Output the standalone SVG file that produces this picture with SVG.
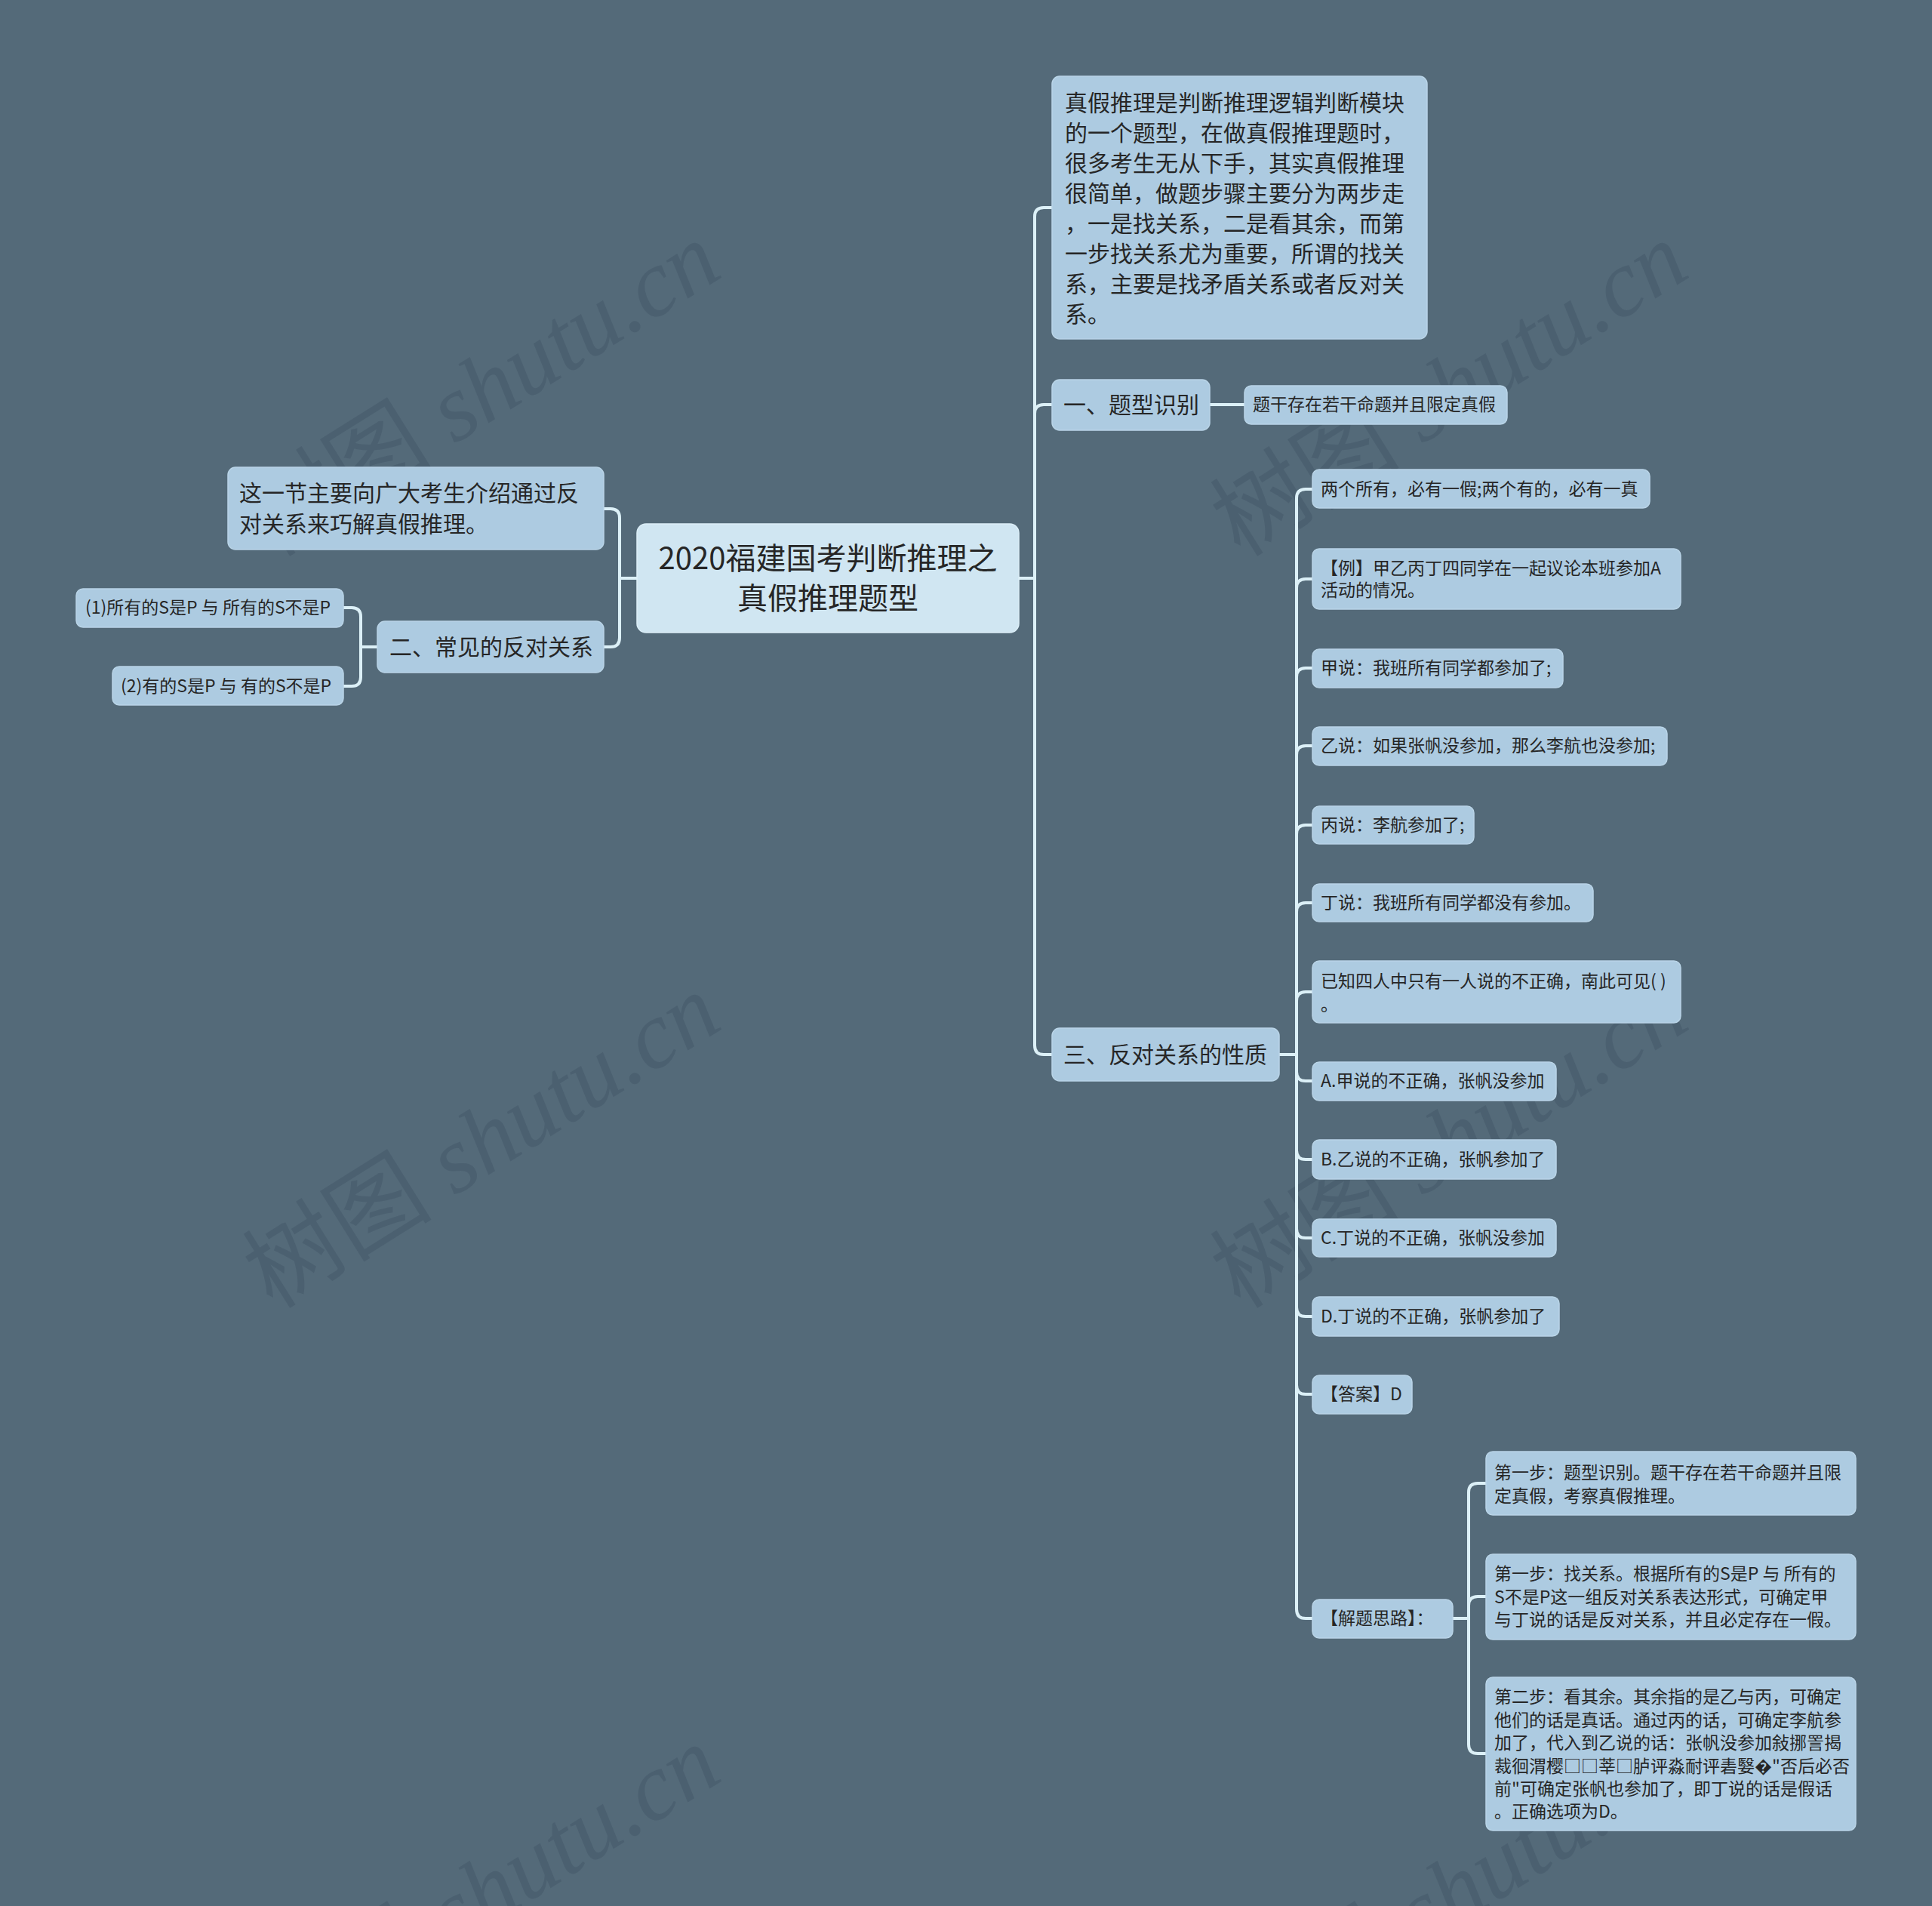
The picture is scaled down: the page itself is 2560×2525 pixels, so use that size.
<svg xmlns="http://www.w3.org/2000/svg" width="2560" height="2525" viewBox="0 0 2560 2525">
<style>
.bg{fill:#546a79}
.n{fill:#adcbe1;stroke:#b9d4e7;stroke-width:1.5}
.root{fill:#d0e6f2;stroke:#dbeef7;stroke-width:1.5}
.t{font-family:"Noto Sans CJK SC","Noto Sans",sans-serif;fill:#262626}
.t40{font-size:40px}
.t30{font-size:30px}
.t23{font-size:23px}
.c{fill:none;stroke:#dcf0f7;stroke-width:4;stroke-linecap:round}
.wm{font-family:"Liberation Serif","Noto Sans CJK SC",serif;font-size:126px;fill:#45596a;opacity:0.55}
.wm tspan.l{font-style:italic}
</style>
<rect class="bg" x="0" y="0" width="2560" height="2525"/>

<g id="watermarks">
<text class="wm" text-anchor="middle" transform="translate(640,518) rotate(-32)" dy="40">树图 <tspan class="l">shutu.cn</tspan></text>
<text class="wm" text-anchor="middle" transform="translate(1922,518) rotate(-32)" dy="40">树图 <tspan class="l">shutu.cn</tspan></text>
<text class="wm" text-anchor="middle" transform="translate(640,1514) rotate(-32)" dy="40">树图 <tspan class="l">shutu.cn</tspan></text>
<text class="wm" text-anchor="middle" transform="translate(1922,1514) rotate(-32)" dy="40">树图 <tspan class="l">shutu.cn</tspan></text>
<text class="wm" text-anchor="middle" transform="translate(640,2510) rotate(-32)" dy="40">树图 <tspan class="l">shutu.cn</tspan></text>
<text class="wm" text-anchor="middle" transform="translate(1922,2510) rotate(-32)" dy="40">树图 <tspan class="l">shutu.cn</tspan></text>
</g>

<g id="connectors">
<!-- left -->
<path class="c" d="M844 766 H821"/>
<path class="c" d="M800 674 H809 Q821 674 821 686 V845 Q821 857 809 857 H800"/>
<path class="c" d="M500 857 H478"/>
<path class="c" d="M455 805 H466 Q478 805 478 817 V897 Q478 909 466 909 H455"/>
<!-- right main -->
<path class="c" d="M1350 766 H1371"/>
<path class="c" d="M1394 275 H1383 Q1371 275 1371 287 V1385 Q1371 1397 1383 1397 H1394"/>
<path class="c" d="M1371 548 Q1371 536 1383 536 H1394"/>
<path class="c" d="M1603 536 H1649"/>
<!-- R2 subtree -->
<path class="c" d="M1695 1397 H1718"/>
<path class="c" d="M1739 648 H1730 Q1718 648 1718 660 V2132 Q1718 2144 1730 2144 H1739"/>
<path class="c" d="M1718 779 Q1718 767 1730 767 H1739"/>
<path class="c" d="M1718 897 Q1718 885 1730 885 H1739"/>
<path class="c" d="M1718 1000 Q1718 988 1730 988 H1739"/>
<path class="c" d="M1718 1105 Q1718 1093 1730 1093 H1739"/>
<path class="c" d="M1718 1208 Q1718 1196 1730 1196 H1739"/>
<path class="c" d="M1718 1326 Q1718 1314 1730 1314 H1739"/>
<path class="c" d="M1718 1420 Q1718 1432 1730 1432 H1739"/>
<path class="c" d="M1718 1524 Q1718 1536 1730 1536 H1739"/>
<path class="c" d="M1718 1628 Q1718 1640 1730 1640 H1739"/>
<path class="c" d="M1718 1732 Q1718 1744 1730 1744 H1739"/>
<path class="c" d="M1718 1835 Q1718 1847 1730 1847 H1739"/>
<!-- steps -->
<path class="c" d="M1925 2144 H1946"/>
<path class="c" d="M1969 1965 H1958 Q1946 1965 1946 1977 V2311 Q1946 2323 1958 2323 H1969"/>
<path class="c" d="M1946 2127 Q1946 2115 1958 2115 H1969"/>
</g>

<g id="root">
<rect class="root" x="844" y="694" width="506" height="144" rx="12"/>
<text class="t t40" x="1097" y="754" text-anchor="middle">2020福建国考判断推理之</text>
<text class="t t40" x="1097" y="807" text-anchor="middle">真假推理题型</text>
</g>

<g id="L1">
<rect class="n" x="302" y="619" width="498" height="109" rx="10"/>
<text class="t t30" x="317" y="664">这一节主要向广大考生介绍通过反</text>
<text class="t t30" x="317" y="705">对关系来巧解真假推理。</text>
</g>
<g id="L2">
<rect class="n" x="500" y="823" width="300" height="68" rx="10"/>
<text class="t t30" x="516" y="868">二、常见的反对关系</text>
</g>
<g id="L2a">
<rect class="n" x="101" y="780" width="354" height="51" rx="9"/>
<text class="t t23" x="113" y="813">(1)所有的S是P 与 所有的S不是P</text>
</g>
<g id="L2b">
<rect class="n" x="149" y="883" width="306" height="51" rx="9"/>
<text class="t t23" x="160" y="917">(2)有的S是P 与 有的S不是P</text>
</g>

<g id="R0">
<rect class="n" x="1394" y="101" width="497" height="348" rx="10"/>
<text class="t t30" x="1411" y="147">真假推理是判断推理逻辑判断模块</text>
<text class="t t30" x="1411" y="187">的一个题型，在做真假推理题时，</text>
<text class="t t30" x="1411" y="227">很多考生无从下手，其实真假推理</text>
<text class="t t30" x="1411" y="267">很简单，做题步骤主要分为两步走</text>
<text class="t t30" x="1411" y="307">，一是找关系，二是看其余，而第</text>
<text class="t t30" x="1411" y="347">一步找关系尤为重要，所谓的找关</text>
<text class="t t30" x="1411" y="387">系，主要是找矛盾关系或者反对关</text>
<text class="t t30" x="1411" y="427">系。</text>
</g>

<g id="R1">
<rect class="n" x="1394" y="503" width="209" height="67" rx="10"/>
<text class="t t30" x="1409" y="547">一、题型识别</text>
</g>
<g id="R1a">
<rect class="n" x="1649" y="511" width="348" height="51" rx="9"/>
<text class="t t23" x="1660" y="544">题干存在若干命题并且限定真假</text>
</g>

<g id="R2">
<rect class="n" x="1394" y="1362" width="301" height="70" rx="10"/>
<text class="t t30" x="1409" y="1408">三、反对关系的性质</text>
</g>

<g id="c1">
<rect class="n" x="1739" y="622" width="447" height="51" rx="9"/>
<text class="t t23" x="1750" y="656">两个所有，必有一假;两个有的，必有一真</text>
</g>
<g id="c2">
<rect class="n" x="1739" y="727" width="488" height="80" rx="9"/>
<text class="t t23" x="1750" y="761">【例】甲乙丙丁四同学在一起议论本班参加A</text>
<text class="t t23" x="1750" y="790">活动的情况。</text>
</g>
<g id="c3">
<rect class="n" x="1739" y="860" width="332" height="51" rx="9"/>
<text class="t t23" x="1750" y="893">甲说：我班所有同学都参加了;</text>
</g>
<g id="c4">
<rect class="n" x="1739" y="963" width="470" height="51" rx="9"/>
<text class="t t23" x="1750" y="996">乙说：如果张帆没参加，那么李航也没参加;</text>
</g>
<g id="c5">
<rect class="n" x="1739" y="1068" width="214" height="50" rx="9"/>
<text class="t t23" x="1750" y="1101">丙说：李航参加了;</text>
</g>
<g id="c6">
<rect class="n" x="1739" y="1171" width="372" height="50" rx="9"/>
<text class="t t23" x="1750" y="1204">丁说：我班所有同学都没有参加。</text>
</g>
<g id="c7">
<rect class="n" x="1739" y="1273" width="488" height="82" rx="9"/>
<text class="t t23" x="1750" y="1308">已知四人中只有一人说的不正确，南此可见( )</text>
<text class="t t23" x="1750" y="1339">。</text>
</g>
<g id="c8">
<rect class="n" x="1739" y="1407" width="323" height="51" rx="9"/>
<text class="t t23" x="1750" y="1440">A.甲说的不正确，张帆没参加</text>
</g>
<g id="c9">
<rect class="n" x="1739" y="1510" width="323" height="52" rx="9"/>
<text class="t t23" x="1750" y="1544">B.乙说的不正确，张帆参加了</text>
</g>
<g id="c10">
<rect class="n" x="1739" y="1615" width="323" height="50" rx="9"/>
<text class="t t23" x="1750" y="1648">C.丁说的不正确，张帆没参加</text>
</g>
<g id="c11">
<rect class="n" x="1739" y="1718" width="327" height="52" rx="9"/>
<text class="t t23" x="1750" y="1752">D.丁说的不正确，张帆参加了</text>
</g>
<g id="c12">
<rect class="n" x="1739" y="1822" width="132" height="51" rx="9"/>
<text class="t t23" x="1750" y="1855">【答案】D</text>
</g>
<g id="c13">
<rect class="n" x="1739" y="2119" width="186" height="51" rx="9"/>
<text class="t t23" x="1750" y="2152">【解题思路】：</text>
</g>

<g id="s1">
<rect class="n" x="1969" y="1923" width="490" height="84" rx="9"/>
<text class="t t23" x="1980" y="1959">第一步：题型识别。题干存在若干命题并且限</text>
<text class="t t23" x="1980" y="1990">定真假，考察真假推理。</text>
</g>
<g id="s2">
<rect class="n" x="1969" y="2059" width="490" height="113" rx="9"/>
<text class="t t23" x="1980" y="2093">第一步：找关系。根据所有的S是P 与 所有的</text>
<text class="t t23" x="1980" y="2124">S不是P这一组反对关系表达形式，可确定甲</text>
<text class="t t23" x="1980" y="2154">与丁说的话是反对关系，并且必定存在一假。</text>
</g>
<g id="s3">
<rect class="n" x="1969" y="2222" width="490" height="203" rx="9"/>
<text class="t t23" x="1980" y="2256">第二步：看其余。其余指的是乙与丙，可确定</text>
<text class="t t23" x="1980" y="2287">他们的话是真话。通过丙的话，可确定李航参</text>
<text class="t t23" x="1980" y="2317">加了，代入到乙说的话：张帆没参加敍挪詈揭</text>
<text class="t t23" x="1980" y="2348">裁徊渭樱□□莘□胪评淼耐评砉嫛�"否后必否</text>
<text class="t t23" x="1980" y="2378">前"可确定张帆也参加了，即丁说的话是假话</text>
<text class="t t23" x="1980" y="2408">。正确选项为D。</text>
</g>
</svg>
